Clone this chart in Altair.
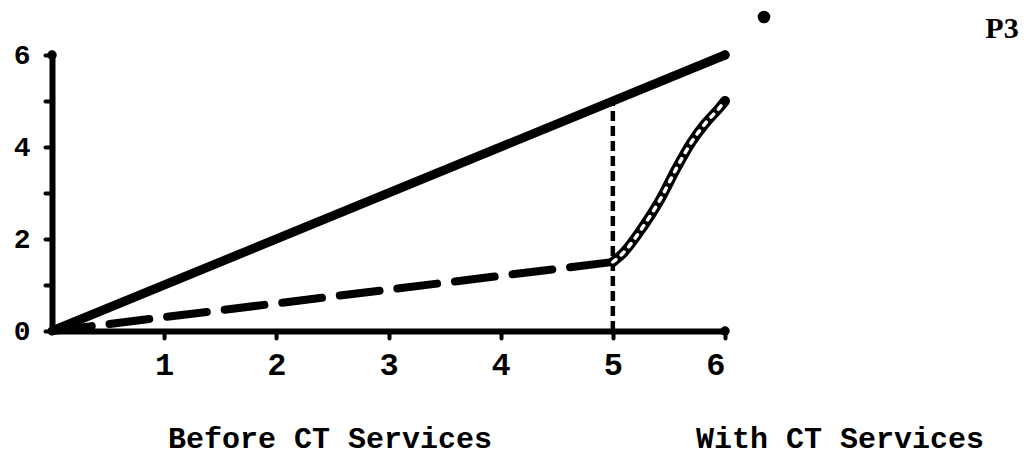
import altair as alt
import pandas as pd

# Data
solid_x = [0, 6]
solid_y = [0, 6]
dash_x = [0, 5]
dash_y = [0, 1.5]
vert_x = [5, 5]
vert_y = [0, 5]
curve_x = [5.0, 5.09, 5.27, 5.42, 5.57, 5.7, 5.82, 5.95, 6.0]
curve_y = [1.5, 1.69, 2.27, 2.85, 3.55, 4.1, 4.5, 4.85, 5.0]
x_ticks = [1, 2, 3, 4, 5, 6]
y_ticks = [0, 1, 2, 3, 4, 5, 6]
captions = ["Before CT Services", "With CT Services"]
corner_tag = "P3"

FONT = "Liberation Mono"

xs = alt.Scale(domain=[0, 6], nice=False, zero=False)
ys = alt.Scale(domain=[0, 6], nice=False, zero=False)

solid = pd.DataFrame({"x": solid_x, "y": solid_y})
dashed = pd.DataFrame({"x": dash_x, "y": dash_y})
vert = pd.DataFrame({"x": vert_x, "y": vert_y})
curve = pd.DataFrame({"x": curve_x, "y": curve_y, "o": list(range(len(curve_x)))})

xax = alt.Axis(values=x_ticks, format="d", title=None, grid=False, domainWidth=6, domainColor="black",
               domainCap="round", tickColor="black", tickWidth=4, tickSize=7, tickCap="round",
               labelFont=FONT, labelFontSize=32, labelFontWeight="bold", labelColor="black",
               labelPadding=11)
yax = alt.Axis(values=y_ticks, format="d", title=None, grid=False, domainWidth=6, domainColor="black",
               domainCap="round", tickColor="black", tickWidth=4, tickSize=7, tickCap="round",
               labelFont=FONT, labelFontSize=28, labelFontWeight="bold", labelColor="black",
               labelPadding=15, labelExpr="datum.value % 2 == 0 ? datum.label : ''")

X = alt.X("x:Q", scale=xs, axis=xax)
Y = alt.Y("y:Q", scale=ys, axis=yax)

base_axes = alt.Chart(solid).mark_line(opacity=0).encode(x=X, y=Y)

solid_line = alt.Chart(solid).mark_line(color="black", strokeWidth=9, strokeCap="round").encode(x=X, y=Y)

dash_line = alt.Chart(dashed).mark_line(color="black", strokeWidth=8, strokeCap="round",
                                         strokeDash=[40, 18]).encode(x=X, y=Y)

vert_line = alt.Chart(vert).mark_line(color="black", strokeWidth=4.5, strokeDash=[10, 5]).encode(
    x=X, y=Y, order="y:Q")

curve_black = alt.Chart(curve).mark_line(color="black", strokeWidth=10, strokeCap="round",
                                          interpolate="monotone").encode(x=X, y=Y, order="o:Q")
curve_white = alt.Chart(curve).mark_line(color="white", strokeWidth=3.5, strokeCap="round",
                                          strokeDash=[4, 7], interpolate="monotone").encode(
    x=X, y=Y, order="o:Q")

end_dots = alt.Chart(pd.DataFrame({"x": [6, 6, 0], "y": [6, 0, 6]})).mark_point(
    filled=True, color="black", size=90, opacity=1).encode(x=X, y=Y)

cap1 = alt.Chart(pd.DataFrame({"t": [captions[0]]})).mark_text(
    font=FONT, fontSize=30, fontWeight="bold", color="black", align="center", baseline="alphabetic").encode(
    text="t:N", x=alt.value(278), y=alt.value(393))
cap2 = alt.Chart(pd.DataFrame({"t": [captions[1]]})).mark_text(
    font=FONT, fontSize=30, fontWeight="bold", color="black", align="center", baseline="alphabetic").encode(
    text="t:N", x=alt.value(788), y=alt.value(393))
tag = alt.Chart(pd.DataFrame({"t": [corner_tag]})).mark_text(
    font="Liberation Serif", fontSize=30, fontWeight="bold", color="black", align="center",
    baseline="middle").encode(text="t:N", x=alt.value(950), y=alt.value(-26))
speck = alt.Chart(pd.DataFrame({"t": [1]})).mark_point(
    filled=True, color="black", size=160, opacity=1, shape="circle").encode(
    x=alt.value(712), y=alt.value(-38))

chart = alt.layer(base_axes, vert_line, dash_line, curve_black, curve_white, solid_line,
                  end_dots, cap1, cap2, tag, speck).properties(
    width=673, height=276,
    background="white",
    autosize=alt.AutoSizeParams(type="none"),
    padding={"left": 44, "top": 47, "right": 299, "bottom": 128},
).configure_view(strokeWidth=0, stroke="transparent").configure_axis(grid=False)

chart.save("out.html", embed_options={"renderer": "svg", "actions": False})
